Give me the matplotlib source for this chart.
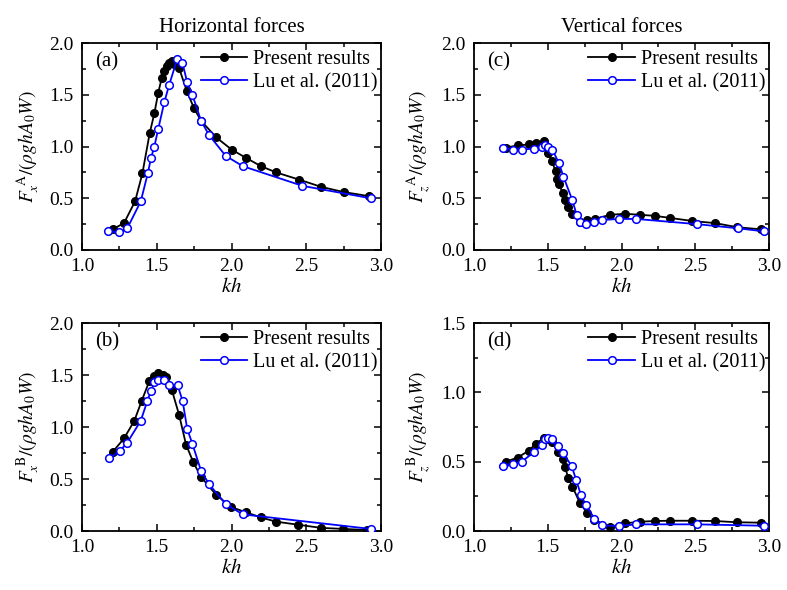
import matplotlib
matplotlib.use("Agg")
import matplotlib.pyplot as plt
from matplotlib.ticker import MultipleLocator, FormatStrFormatter

plt.rcParams['font.family'] = ['Liberation Serif', 'DejaVu Serif']
plt.rcParams['mathtext.fontset'] = 'stix'

# ---- Panel (a): horizontal force, body A ----
a_pres_x = [1.205, 1.281, 1.355, 1.404, 1.453, 1.484, 1.510, 1.533, 1.548, 1.566, 1.582, 1.600, 1.615,
            1.649, 1.700, 1.749, 1.796, 1.896, 2.001, 2.097, 2.197, 2.298, 2.452, 2.600, 2.750, 2.920]
a_pres_y = [0.20, 0.26, 0.47, 0.74, 1.13, 1.32, 1.52, 1.66, 1.73, 1.78, 1.81, 1.83, 1.80,
            1.76, 1.54, 1.37, 1.25, 1.09, 0.97, 0.89, 0.81, 0.75, 0.68, 0.61, 0.56, 0.52]
a_lu_x = [1.176, 1.250, 1.303, 1.393, 1.440, 1.462, 1.484, 1.510, 1.551, 1.582, 1.638, 1.671,
          1.704, 1.738, 1.796, 1.850, 1.961, 2.075, 2.474, 2.930]
a_lu_y = [0.18, 0.17, 0.21, 0.47, 0.74, 0.89, 1.00, 1.17, 1.43, 1.59, 1.85, 1.81,
          1.62, 1.50, 1.25, 1.11, 0.91, 0.81, 0.62, 0.50]

# ---- Panel (b): horizontal force, body B ----
b_pres_x = [1.205, 1.281, 1.350, 1.399, 1.450, 1.484, 1.510, 1.544, 1.562, 1.600, 1.649, 1.696,
            1.745, 1.796, 1.896, 1.997, 2.097, 2.197, 2.298, 2.447, 2.599, 2.748, 2.904]
b_pres_y = [0.76, 0.89, 1.06, 1.25, 1.44, 1.49, 1.52, 1.50, 1.48, 1.36, 1.12, 0.83,
            0.66, 0.52, 0.35, 0.23, 0.18, 0.13, 0.09, 0.06, 0.03, 0.02, 0.01]
b_lu_x = [1.183, 1.254, 1.303, 1.393, 1.437, 1.462, 1.484, 1.510, 1.548, 1.582, 1.640, 1.673,
          1.704, 1.738, 1.796, 1.850, 1.961, 2.075, 2.931]
b_lu_y = [0.70, 0.77, 0.85, 1.06, 1.25, 1.35, 1.43, 1.45, 1.45, 1.40, 1.40, 1.25,
          0.98, 0.84, 0.58, 0.45, 0.26, 0.16, 0.02]

# ---- Panel (c): vertical force, body A ----
c_pres_x = [1.217, 1.296, 1.373, 1.420, 1.475, 1.500, 1.527, 1.554, 1.565, 1.578, 1.600, 1.617,
            1.635, 1.662, 1.719, 1.768, 1.820, 1.922, 2.024, 2.125, 2.227, 2.329, 2.480, 2.634,
            2.785, 2.944]
c_pres_y = [0.99, 1.01, 1.02, 1.03, 1.05, 0.94, 0.86, 0.76, 0.69, 0.64, 0.55, 0.48,
            0.42, 0.35, 0.27, 0.29, 0.30, 0.34, 0.35, 0.34, 0.33, 0.31, 0.28, 0.26,
            0.22, 0.20]
c_lu_x = [1.195, 1.267, 1.323, 1.409, 1.463, 1.481, 1.504, 1.531, 1.576, 1.606, 1.667, 1.696,
          1.719, 1.757, 1.816, 1.870, 1.985, 2.100, 2.510, 2.788, 2.966]
c_lu_y = [0.99, 0.97, 0.97, 0.98, 1.00, 1.01, 1.00, 0.97, 0.84, 0.71, 0.48, 0.34,
          0.27, 0.25, 0.27, 0.29, 0.30, 0.30, 0.25, 0.21, 0.18]

# ---- Panel (d): vertical force, body B ----
d_pres_x = [1.217, 1.296, 1.373, 1.418, 1.475, 1.500, 1.531, 1.572, 1.601, 1.617, 1.640, 1.667,
            1.719, 1.768, 1.816, 1.922, 2.024, 2.125, 2.227, 2.329, 2.480, 2.634, 2.785, 2.944]
d_pres_y = [0.50, 0.53, 0.58, 0.63, 0.67, 0.66, 0.64, 0.57, 0.52, 0.46, 0.38, 0.32,
            0.20, 0.13, 0.08, 0.03, 0.055, 0.067, 0.072, 0.074, 0.074, 0.072, 0.063, 0.06]
d_lu_x = [1.195, 1.267, 1.323, 1.409, 1.463, 1.481, 1.504, 1.531, 1.572, 1.601, 1.662, 1.692,
          1.725, 1.757, 1.816, 1.870, 1.985, 2.100, 2.510, 2.966]
d_lu_y = [0.47, 0.48, 0.50, 0.57, 0.62, 0.66, 0.67, 0.66, 0.61, 0.565, 0.47, 0.37,
          0.26, 0.19, 0.09, 0.04, 0.036, 0.048, 0.048, 0.038]

titles = ["Horizontal forces", "Vertical forces"]
panel_labels = ["(a)", "(b)", "(c)", "(d)"]
legend_labels = ["Present results", "Lu et al. (2011)"]
ylabels = [r"$F_x^{\ \mathrm{A}}/(\rho ghA_0W)$", r"$F_x^{\ \mathrm{B}}/(\rho ghA_0W)$",
           r"$F_z^{\ \mathrm{A}}/(\rho ghA_0W)$", r"$F_z^{\ \mathrm{B}}/(\rho ghA_0W)$"]
ymaxes = [2.0, 2.0, 2.0, 1.5]

fig = plt.figure(figsize=(7.87, 5.90), dpi=100)
W, H = 787.0, 590.0
boxes = [(82, 43, 381, 250), (82, 323, 381, 531), (474, 43, 769, 250), (474, 323, 769, 531)]
data = [(a_pres_x, a_pres_y, a_lu_x, a_lu_y), (b_pres_x, b_pres_y, b_lu_x, b_lu_y),
        (c_pres_x, c_pres_y, c_lu_x, c_lu_y), (d_pres_x, d_pres_y, d_lu_x, d_lu_y)]

for i, (box, dd) in enumerate(zip(boxes, data)):
    l, t, r, b = box
    ax = fig.add_axes([l / W, 1 - b / H, (r - l) / W, (b - t) / H])
    px, py, lx, ly = dd
    ax.plot(px, py, '-o', color='black', lw=1.3, ms=5.5, mfc='black', mec='black',
            label=legend_labels[0], zorder=3)
    ax.plot(lx, ly, '-o', color='#0000ff', lw=1.3, ms=5.5, mfc='white', mec='#0000ff',
            mew=1.1, label=legend_labels[1], zorder=4)
    ax.set_xlim(1.0, 3.0)
    ax.set_ylim(0, ymaxes[i])
    ax.xaxis.set_major_locator(MultipleLocator(0.5))
    ax.xaxis.set_minor_locator(MultipleLocator(0.25))
    ax.yaxis.set_major_locator(MultipleLocator(0.5))
    ax.yaxis.set_minor_locator(MultipleLocator(0.25))
    ax.xaxis.set_major_formatter(FormatStrFormatter('%.1f'))
    ax.yaxis.set_major_formatter(FormatStrFormatter('%.1f'))
    ax.tick_params(which='both', direction='in', top=True, right=True, labelsize=14,
                   width=1.1, color='black', pad=6)
    ax.tick_params(which='major', length=5)
    ax.tick_params(which='minor', length=3)
    for s in ax.spines.values():
        s.set_linewidth(1.3)
    ax.set_xlabel(r"$kh$", fontsize=15, labelpad=2)
    ax.set_ylabel(ylabels[i], fontsize=14, labelpad=5)
    ax.text(0.045, 0.955, panel_labels[i], transform=ax.transAxes, fontsize=15,
            va='top', ha='left')
    ax.legend(loc='upper right', bbox_to_anchor=(1.035, 1.035), frameon=False, fontsize=14.5,
              handlelength=2.3, handletextpad=0.3, labelspacing=0.2, borderaxespad=0.3)
    if i in (0, 2):
        ax.set_title(titles[i // 2], fontsize=15, pad=8)

fig.savefig("out.png", dpi=100)
